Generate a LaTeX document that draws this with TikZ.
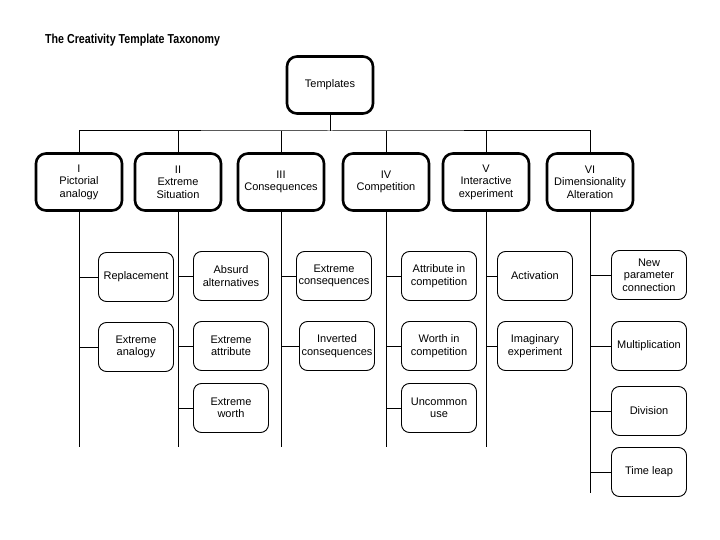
\documentclass[tikz,border=0pt]{standalone}
\usepackage{fontspec}
\usepackage{graphicx}
\setmainfont{Liberation Sans}
\begin{document}
\begin{tikzpicture}[x=1pt,y=-1pt,
  top/.style={draw, line width=2.6pt, rounded corners=10pt, minimum width=86pt, minimum height=57pt, align=center, font=\fontsize{11}{12.5}\selectfont, inner sep=1pt},
  sub/.style={draw, line width=0.9pt, rounded corners=8pt, minimum width=75pt, minimum height=49pt, align=center, font=\fontsize{11}{12.5}\selectfont, inner sep=1.5pt},
  conn/.style={line width=1pt}]
\useasboundingbox (0,0) rectangle (720,540);
\node[anchor=west, inner sep=0pt] (title) at (45,40) {\scalebox{0.82}[1]{\fontsize{13}{15}\selectfont\bfseries The Creativity Template Taxonomy}};

\node[top] (root) at (330,85) {Templates};

\node[top] (c1) at (79,182) {I\\Pictorial\\analogy};
\node[top] (c2) at (178,182) {II\\Extreme\\Situation};
\node[top] (c3) at (281,182) {III\\Consequences};
\node[top] (c4) at (386,182) {IV\\Competition};
\node[top] (c5) at (486,182) {V\\Interactive\\experiment};
\node[top] (c6) at (590,182) {VI\\Dimensionality\\Alteration};

\coordinate (bus) at (330,131);
\coordinate (b1) at (79,447);
\coordinate (b2) at (178,447);
\coordinate (b3) at (281,447);
\coordinate (b4) at (386,447);
\coordinate (b5) at (486,447);
\coordinate (b6) at (590,493);

\draw[conn] (root.south) -- (bus);
\draw[conn] (c1.north) |- (bus) -| (c6.north);
\foreach \i in {2,3,4,5} \draw[conn] (c\i.north) -- (c\i.north |- bus);
\foreach \i in {1,...,6} \draw[conn] (c\i.south) -- (b\i);

\node[sub] (s11) at (136,277) {Replacement};
\node[sub] (s12) at (136,347) {Extreme\\analogy};
\node[sub] (s21) at (231,276) {Absurd\\alternatives};
\node[sub] (s22) at (231,346) {Extreme\\attribute};
\node[sub] (s23) at (231,408) {Extreme\\worth};
\node[sub] (s31) at (334,276) {Extreme\\consequences};
\node[sub] (s32) at (337,346) {Inverted\\consequences};
\node[sub] (s41) at (439,276) {Attribute in\\competition};
\node[sub] (s42) at (439,346) {Worth in\\competition};
\node[sub] (s43) at (439,408) {Uncommon\\use};
\node[sub] (s51) at (535,276) {Activation};
\node[sub] (s52) at (535,346) {Imaginary\\experiment};
\node[sub] (s61) at (649,275) {New\\parameter\\connection};
\node[sub] (s62) at (649,346) {Multiplication};
\node[sub] (s63) at (649,411) {Division};
\node[sub] (s64) at (649,472) {Time leap};

\foreach \s/\c in {s11/b1,s12/b1,s21/b2,s22/b2,s23/b2,s31/b3,s32/b3,s41/b4,s42/b4,s43/b4,s51/b5,s52/b5,s61/b6,s62/b6,s63/b6,s64/b6}
  \draw[conn] (\s.west) -- (\s.west -| \c);
\end{tikzpicture}
\end{document}
